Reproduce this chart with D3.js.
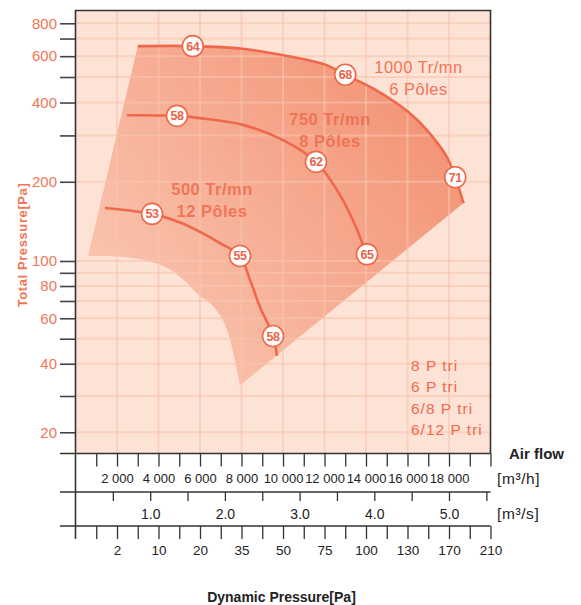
<!DOCTYPE html>
<html>
<head>
<meta charset="utf-8">
<script src="https://cdn.jsdelivr.net/npm/d3@7"></script>
<style>
  body { margin: 0; background: #fff; }
  svg { display: block; font-family: "Liberation Sans", Arial, sans-serif; }
</style>
</head>
<body>
<div id="chart"></div>
<script>
// fan curves : air flow [m3/h] vs total pressure [Pa]
const flow1000 = [3000, 5650, 8050, 10000, 12100, 13000, 14500, 16100, 17200, 17900, 18300, 18700];
const press1000 = [655, 655, 640, 605, 555, 510, 445, 365, 297, 248, 208, 166];
const flow750 = [2480, 4890, 6000, 8070, 10000, 11590, 12750, 13470, 13860, 14050];
const press750 = [358, 356, 349, 329, 288, 238, 178, 137, 115, 106];
const flow500 = [1420, 3690, 5040, 6000, 6960, 7930, 8410, 8890, 9520, 9710];
const press500 = [159, 151, 140, 129, 117, 104.5, 84.5, 66.4, 51.2, 42.9];

// efficiency / noise markers on the curves
const mark1000 = [[5650, 655, "64"], [13000, 510, "68"], [18300, 208, "71"]];
const mark750 = [[4890, 356, "58"], [11590, 238, "62"], [14050, 106, "65"]];
const mark500 = [[3690, 151, "53"], [7930, 104.5, "55"], [9520, 51.2, "58"]];

// lower edge of the working zone (top edge = 1000 curve)
const zoneFlow = [7930, 7780, 7450, 7110, 6480, 6000, 5370, 4410, 2770, 600];
const zonePress = [33, 37.8, 49.4, 59, 68.8, 73.1, 82.2, 94, 102.6, 104.5];

const yTicks = [800, 700, 600, 500, 400, 300, 200, 100, 90, 80, 70, 60, 50, 40, 30, 20];
const yLabels = [800, 600, 400, 200, 100, 80, 60, 40, 20];
const flowTicks = [1000, 2000, 3000, 4000, 5000, 6000, 7000, 8000, 9000, 10000,
  11000, 12000, 13000, 14000, 15000, 16000, 17000, 18000, 19000, 20000];
const flowGrid = [2000, 4000, 6000, 8000, 10000, 12000, 14000, 16000, 18000];
const flowLabels = ["2 000", "4 000", "6 000", "8 000", "10 000", "12 000", "14 000", "16 000", "18 000"];
const m3sTicks = [0.5, 1, 1.5, 2, 2.5, 3, 3.5, 4, 4.5, 5, 5.5];
const m3sLabels = [1, 2, 3, 4, 5];
const dynFlows = [2000, 4000, 6000, 8000, 10000, 12000, 14000, 16000, 18000, 20000];
const dynLabels = ["2", "10", "20", "35", "50", "75", "100", "130", "170", "210"];
const speeds = ["1000 Tr/mn", "750 Tr/mn", "500 Tr/mn"];
const poles = ["6 Pôles", "8 Pôles", "12 Pôles"];
const legendItems = ["8 P tri", "6 P tri", "6/8 P tri", "6/12 P tri"];

const W = 581, H = 605;
const L = 75.5, R = 490.5, T = 10.5, B = 453.5;
const red = "#f0684a", txt = "#f07656";

const svg = d3.select("#chart").append("svg").attr("width", W).attr("height", H);

const x = d3.scaleLinear().domain([0, 20000]).range([L, R]);
const xs = d3.scaleLinear().domain([0, 20000 / 3600]).range([L, R]);
const y = d3.scaleLog().domain([895, 800, 100, 30, 20, 15.8]).range([T, 23.3, 261, 396, 432.3, B]);

// background
svg.append("rect").attr("x", L).attr("y", T).attr("width", R - L).attr("height", B - T).attr("fill", "#fde2d6");

const defs = svg.append("defs");
const grad = defs.append("linearGradient").attr("id", "zone")
  .attr("gradientUnits", "userSpaceOnUse")
  .attr("x1", 100).attr("y1", 390).attr("x2", 470).attr("y2", 90);
grad.append("stop").attr("offset", 0).attr("stop-color", "#fbcdb9");
grad.append("stop").attr("offset", 1).attr("stop-color", "#f28e6f");

const smooth = d3.line().x(d => x(d[0])).y(d => y(d[1])).curve(d3.curveCatmullRom);
const c1000 = flow1000.map((f, i) => [f, press1000[i]]);
const c750 = flow750.map((f, i) => [f, press750[i]]);
const c500 = flow500.map((f, i) => [f, press500[i]]);
const lower = zoneFlow.map((f, i) => [f, zonePress[i]]);

svg.append("path")
  .attr("d", smooth(c1000) + smooth(lower).replace(/^M/, "L") + "Z")
  .attr("fill", "url(#zone)");

// grid
const grid = svg.append("g").attr("stroke", "#f8c4ad").attr("stroke-opacity", 0.6).attr("stroke-width", 2);
grid.selectAll(".v").data(flowGrid).enter().append("line")
  .attr("x1", d => x(d)).attr("x2", d => x(d)).attr("y1", T).attr("y2", B);
grid.selectAll(".h").data(yTicks).enter().append("line")
  .attr("y1", d => y(d)).attr("y2", d => y(d)).attr("x1", L).attr("x2", R);

// curves
[c1000, c750, c500].forEach(c => {
  svg.append("path").attr("d", smooth(c)).attr("fill", "none")
    .attr("stroke", red).attr("stroke-width", 2.6);
});

[mark1000, mark750, mark500].forEach(m => {
  const g = svg.append("g").selectAll("g").data(m).enter().append("g")
    .attr("transform", d => `translate(${x(d[0])},${y(d[1])})`);
  g.append("circle").attr("r", 10.5).attr("fill", "#fff").attr("stroke", red).attr("stroke-width", 1.6);
  g.append("text").text(d => d[2]).attr("text-anchor", "middle").attr("dy", "0.36em")
    .attr("font-size", 12.5).attr("font-weight", "bold").attr("letter-spacing", -0.4)
    .attr("fill", "#ec6346");
});

// speed annotations
const annX = [418.5, 330, 212], annY = [73, 125, 195];
speeds.forEach((s, i) => {
  svg.append("text").text(s).attr("x", annX[i]).attr("y", annY[i])
    .attr("text-anchor", "middle").attr("font-size", 16.5).attr("letter-spacing", 0.5)
    .attr("font-weight", i === 0 ? "normal" : "bold").attr("fill", i === 0 ? txt : "#ef6a4d")
    .attr("fill-opacity", i === 0 ? 1 : 0.85);
  svg.append("text").text(poles[i]).attr("x", annX[i]).attr("y", annY[i] + 21.5)
    .attr("text-anchor", "middle").attr("font-size", 16.5).attr("letter-spacing", 0.5)
    .attr("font-weight", i === 0 ? "normal" : "bold").attr("fill", i === 0 ? txt : "#ef6a4d")
    .attr("fill-opacity", i === 0 ? 1 : 0.85);
});

svg.append("g").selectAll("text").data(legendItems).enter().append("text")
  .text(d => d).attr("x", 411).attr("y", (d, i) => 371 + i * 21.3)
  .attr("font-size", 15.5).attr("letter-spacing", 1).attr("fill", "#f26a4c");

// frame
const frame = svg.append("g").attr("stroke", "#333").attr("stroke-width", 1.6).attr("fill", "none");
frame.append("path").attr("d", `M${L},539V${T}H${R}V${B}`);
[B, 492, 526].forEach(v => frame.append("line").attr("x1", 60).attr("x2", R).attr("y1", v).attr("y2", v));

// y axis
const yAxis = svg.append("g").attr("transform", `translate(${L},0)`)
  .call(d3.axisLeft(y).tickValues(yTicks).tickSize(15.5).tickPadding(3)
    .tickFormat(d => yLabels.includes(d) ? d : ""));
yAxis.select(".domain").remove();
yAxis.selectAll("line").attr("stroke", "#444").attr("stroke-width", 1.6);
yAxis.selectAll("text").attr("font-size", 15).attr("fill", txt).attr("font-family", null);

svg.append("text").text("Total Pressure[Pa]")
  .attr("transform", "translate(26.5,245) rotate(-90)").attr("text-anchor", "middle")
  .attr("font-size", 13).attr("font-weight", "bold").attr("letter-spacing", 0.6).attr("fill", txt);

// bottom axes
function styleAxis(g, size) {
  g.select(".domain").remove();
  g.selectAll("line").attr("stroke", "#333").attr("stroke-width", 1.3);
  g.selectAll("text").attr("font-size", size).attr("fill", "#222").attr("font-family", null);
}
const ax1 = svg.append("g").attr("transform", `translate(0,${B})`)
  .call(d3.axisBottom(x).tickValues(flowTicks).tickSize(13).tickPadding(7)
    .tickFormat(d => flowGrid.includes(d) ? flowLabels[flowGrid.indexOf(d)] : ""));
styleAxis(ax1, 13);

const ax2 = svg.append("g").attr("transform", "translate(0,492)")
  .call(d3.axisBottom(xs).tickValues(m3sTicks).tickSize(9).tickPadding(8)
    .tickFormat(d => m3sLabels.includes(d) ? d3.format(".1f")(d) : ""));
styleAxis(ax2, 14);

const ax3 = svg.append("g").attr("transform", "translate(0,526)")
  .call(d3.axisBottom(x).tickValues(flowTicks).tickSize(13).tickPadding(6)
    .tickFormat(d => dynFlows.includes(d) ? dynLabels[dynFlows.indexOf(d)] : ""));
styleAxis(ax3, 13.5);

svg.append("text").text("Air flow").attr("x", 509).attr("y", 459)
  .attr("font-size", 15).attr("font-weight", "bold").attr("fill", "#222");
svg.append("text").text("[m³/h]").attr("x", 497).attr("y", 484)
  .attr("font-size", 15.5).attr("letter-spacing", 0.6).attr("fill", "#222");
svg.append("text").text("[m³/s]").attr("x", 497).attr("y", 519)
  .attr("font-size", 15.5).attr("letter-spacing", 0.6).attr("fill", "#222");
svg.append("text").text("Dynamic Pressure[Pa]").attr("x", 281.5).attr("y", 602)
  .attr("text-anchor", "middle").attr("font-size", 14).attr("font-weight", "bold").attr("fill", "#222");
</script>
</body>
</html>
